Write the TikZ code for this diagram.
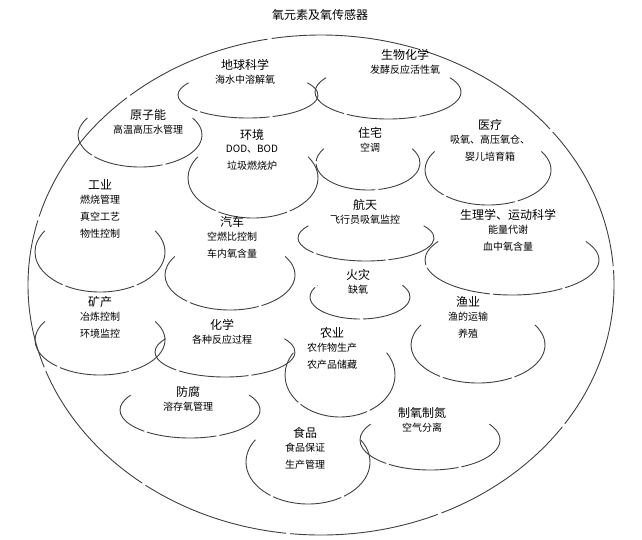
\documentclass[tikz,border=0pt]{standalone}
\usepackage{fontspec}
\setmainfont{Noto Sans CJK SC}
\begin{document}
\begin{tikzpicture}[x=1pt,y=-1pt,
  arcst/.style={line width=0.9pt,black!75,dash pattern=on 70pt off 3pt},
  lbl/.style={align=center,font=\fontsize{10}{17}\selectfont,inner sep=0pt},
  ttl/.style={font=\fontsize{12}{13}\selectfont,inner sep=0pt}]
\useasboundingbox (0,0) rectangle (642,539);
\node[ttl] (title) at (320,15) {氧元素及氧传感器};
\draw[line width=0.9pt,black!75,dash pattern=on 150pt off 4pt] (321,285) ellipse[x radius=293,y radius=250];
\newcommand{\itm}[9]{%
 \node[ttl] (#1t) at (#2,#3) {#4};
 \node[lbl,anchor=north] (#1s) at (#2,#3+10) {#5};
 \draw[arcst] (#6,#7) ++(-32:#8 and #9) arc[start angle=-32,end angle=212,x radius=#8,y radius=#9];
}
\itm{a}{245}{65}{地球科学}{海水中溶解氧}{248}{95}{70}{23}
\itm{b}{405}{55}{生物化学}{发酵反应活性氧}{388}{92}{73}{27}
\itm{c}{148}{115}{原子能}{高温高压水管理}{140}{135}{62}{32}
\itm{d}{252}{135}{环境}{DOD、BOD\\垃圾燃烧炉}{253}{178}{65}{40}
\itm{e}{370}{133}{住宅}{空调}{368}{163}{52}{27}
\itm{f}{490}{125}{医疗}{吸氧、高压氧仓、\\婴儿培育箱}{488}{170}{63}{35}
\itm{g}{100}{185}{工业}{燃烧管理\\真空工艺\\物性控制}{100}{252}{65}{40}
\itm{h}{232}{222}{汽车}{空燃比控制\\车内氧含量}{230}{275}{65}{35}
\itm{i}{365}{205}{航天}{飞行员吸氧监控}{366}{238}{68}{23}
\itm{j}{508}{215}{生理学、运动科学}{能量代谢\\血中氧含量}{512}{260}{87}{35}
\itm{k}{358}{275}{火灾}{缺氧}{360}{297}{50}{22}
\itm{l}{100}{302}{矿产}{冶炼控制\\环境监控}{100}{340}{65}{35}
\itm{m}{222}{325}{化学}{各种反应过程}{225}{352}{70}{25}
\itm{n}{332}{333}{农业}{农作物生产\\农产品储藏}{340}{375}{55}{42}
\itm{o}{468}{302}{渔业}{渔的运输\\养殖}{478}{345}{67}{38}
\itm{p}{188}{392}{防腐}{溶存氧管理}{190}{410}{70}{28}
\itm{q}{305}{433}{食品}{食品保证\\生产管理}{308}{462}{62}{42}
\itm{r}{422}{413}{制氧制氮}{空气分离}{430}{440}{70}{30}
\end{tikzpicture}
\end{document}
